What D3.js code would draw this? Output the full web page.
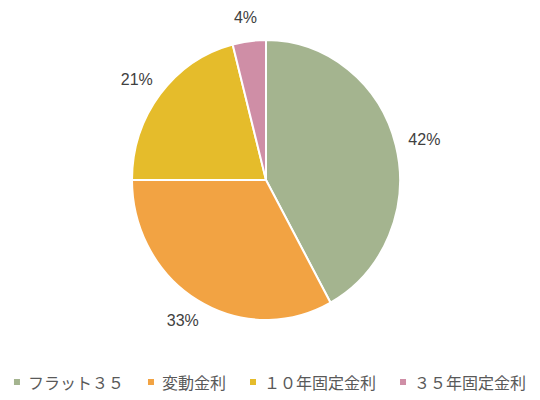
<!DOCTYPE html>
<html>
<head>
<meta charset="utf-8">
<script src="https://cdn.jsdelivr.net/npm/d3@7"></script>
<style>
  body { margin: 0; background: #fff; }
  svg { display: block; }
</style>
</head>
<body>
<div class="chart"></div>
<script>
// chart data
var categories = ["フラット３５", "変動金利", "１０年固定金利", "３５年固定金利"];
var shares = [42, 33, 21, 4];
var sliceColors = ["#a4b48f", "#f2a343", "#e5bc2b", "#cf8ea6"];

var width = 540, height = 400;
var center = { x: 266, y: 180 };
var radius = 134;
var stretchY = 140 / 134; // pie is drawn a little taller than wide

var svg = d3.select(".chart")
  .append("svg")
    .attr("width", width)
    .attr("height", height);

var data = categories.map(function(c, i) {
  return { name: c, value: shares[i], color: sliceColors[i] };
});

var pie = d3.pie()
  .sort(null)
  .value(function(d) { return d.value; });

var arcs = pie(data);

var arc = d3.arc()
  .innerRadius(0)
  .outerRadius(radius);

var labelArc = d3.arc()
  .innerRadius(radius * 1.22)
  .outerRadius(radius * 1.22);

var pieGroup = svg.append("g")
  .attr("transform", "translate(" + center.x + "," + center.y + ") scale(1," + stretchY + ")");

pieGroup.selectAll("path")
  .data(arcs)
  .enter()
  .append("path")
    .attr("d", arc)
    .attr("fill", function(d) { return d.data.color; })
    .attr("stroke", "#fff")
    .attr("stroke-width", 2)
    .attr("stroke-linejoin", "round");

//percentage labels sit outside the slices
svg.append("g")
  .selectAll("text")
  .data(arcs)
  .enter()
  .append("text")
    .attr("x", function(d) { return center.x + labelArc.centroid(d)[0]; })
    .attr("y", function(d) { return center.y + labelArc.centroid(d)[1]; })
    .attr("text-anchor", "middle")
    .attr("dominant-baseline", "central")
    .attr("font-family", "'Liberation Sans', Arial, sans-serif")
    .attr("font-size", "16px")
    .attr("fill", "#404040")
    .text(function(d) { return d.data.value + "%"; });

// legend along the bottom
var legend = svg.append("g").attr("class", "legend");
var legendY = 382;
var boxSize = 6, boxGap = 8, itemGap = 24;

var items = legend.selectAll("g")
  .data(data)
  .enter()
  .append("g");

items.append("rect")
  .attr("width", boxSize)
  .attr("height", boxSize)
  .attr("y", legendY - boxSize / 2)
  .attr("fill", function(d) { return d.color; });

items.append("text")
  .attr("y", legendY)
  .attr("dominant-baseline", "central")
  .attr("font-family", "'Noto Sans CJK JP', sans-serif")
  .attr("font-size", "16px")
  .attr("fill", "#595959")
  .text(function(d) { return d.name; });

//measure the texts, then place items in a centred row
var offsets = [];
var cursor = 0;
items.each(function() {
  var w = d3.select(this).select("text").node().getComputedTextLength();
  offsets.push(cursor);
  cursor += boxSize + boxGap + w + itemGap;
});
var totalWidth = cursor - itemGap;
var startX = 270 - totalWidth / 2;

items.attr("transform", function(d, i) { return "translate(" + (startX + offsets[i]) + ",0)"; });
items.select("text").attr("x", boxSize + boxGap);
</script>
</body>
</html>
